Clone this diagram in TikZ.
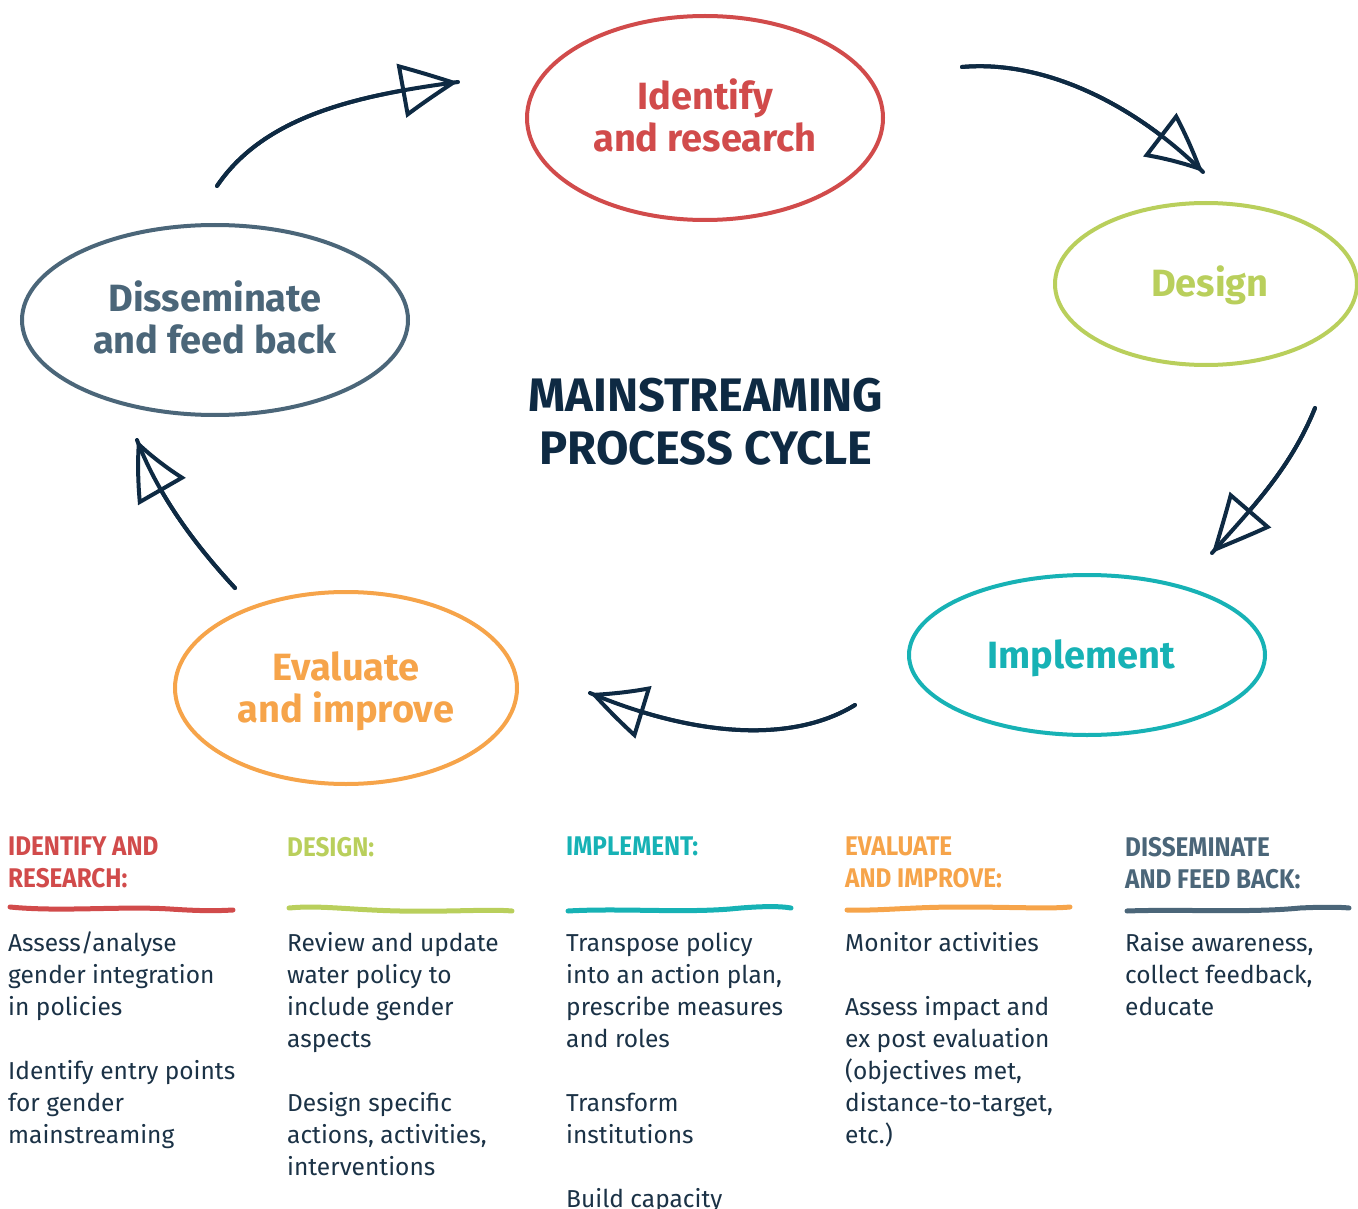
\documentclass[tikz,border=0pt]{standalone}
\usepackage{fontspec}
\setmainfont{Fira Sans}
\newfontfamily\condfont{Fira Sans}[FakeStretch=0.9]
\usetikzlibrary{arrows.meta,bending}
\definecolor{cred}{HTML}{D14B4B}
\definecolor{cgreen}{HTML}{B9CF5C}
\definecolor{cteal}{HTML}{17B2B5}
\definecolor{corange}{HTML}{F6A44A}
\definecolor{cslate}{HTML}{4B6679}
\definecolor{cnavy}{HTML}{0E2A43}
\definecolor{ctext}{HTML}{1B3246}
\begin{document}
\begin{tikzpicture}[x=1pt,y=-1pt,
  phasetext/.style={font=\fontsize{38}{42}\selectfont\bfseries, align=center, inner sep=0pt},
  cyclearrow/.style={draw=cnavy, line width=4pt, line cap=round},
  headtip/.style={-{Triangle[open,length=58pt,width=54pt,line width=4pt,bend]}},
  colhead/.style={anchor=north west, inner sep=0pt, align=left, text=#1,
    font=\condfont\fontsize{27}{32}\selectfont\bfseries},
  colbody/.style={anchor=north west, inner sep=0pt, align=left, text=ctext,
    font=\fontsize{24.5}{32}\selectfont},
  uline/.style={draw=#1, line width=5pt, line cap=round}
]
\useasboundingbox (0,0) rectangle (1358,1209);

% ellipses
\draw[cred, line width=4pt] (705,118) ellipse [x radius=178, y radius=102];
\node[phasetext, text=cred] (identify) at (705,115) {Identify\\and research};

\draw[cgreen, line width=4pt] (1206,284) ellipse [x radius=151, y radius=81];
\node[phasetext, text=cgreen] (design) at (1210,285) {Design};

\draw[cteal, line width=4pt] (1087,655) ellipse [x radius=178, y radius=80];
\node[phasetext, text=cteal] (implement) at (1081,658) {Implement};

\draw[corange, line width=4pt] (346,688) ellipse [x radius=171, y radius=96];
\node[phasetext, text=corange] (evaluate) at (346,691) {Evaluate\\and improve};

\draw[cslate, line width=4pt] (215,320) ellipse [x radius=193, y radius=95];
\node[phasetext, text=cslate] (disseminate) at (215,317) {Disseminate\\and feed back};

% title
\node[font=\fontsize{47}{53}\selectfont\bfseries, text=cnavy, align=center, inner sep=0pt] (title) at (706,422) {MAINSTREAMING\\PROCESS CYCLE};

% arrow coordinates
\coordinate (a1s) at (217,186); \coordinate (a1e) at (458,82);
\coordinate (a2s) at (962,67);  \coordinate (a2e) at (1203,172);
\coordinate (a3s) at (1315,408); \coordinate (a3e) at (1212,553);
\coordinate (a4s) at (855,705); \coordinate (a4e) at (590,693);
\coordinate (a5s) at (235,588); \coordinate (a5e) at (137,440);

\draw[cyclearrow] (a1s) .. controls (265,115) and (360,95) .. (a1e);
\draw[cyclearrow, headtip] (a1s) .. controls (265,115) and (360,95) .. (a1e);
\draw[cyclearrow] (a2s) .. controls (1040,60) and (1130,100) .. (a2e);
\draw[cyclearrow, headtip] (a2s) .. controls (1040,60) and (1130,100) .. (a2e);
\draw[cyclearrow] (a3s) .. controls (1290,470) and (1250,510) .. (a3e);
\draw[cyclearrow, headtip] (a3s) .. controls (1290,470) and (1250,510) .. (a3e);
\draw[cyclearrow] (a4s) .. controls (790,745) and (690,735) .. (a4e);
\draw[cyclearrow, headtip] (a4s) .. controls (790,745) and (690,735) .. (a4e);
\draw[cyclearrow] (a5s) .. controls (200,550) and (160,500) .. (a5e);
\draw[cyclearrow, headtip] (a5s) .. controls (200,550) and (160,500) .. (a5e);

% column headings
\node[colhead=cred] (h1) at (8,837) {IDENTIFY AND\\RESEARCH:};
\node[colhead=cgreen] (h2) at (287,837) {DESIGN:};
\node[colhead=cteal] (h3) at (566,837) {IMPLEMENT:};
\node[colhead=corange] (h4) at (845,837) {EVALUATE\\AND IMPROVE:};
\node[colhead=cslate] (h5) at (1125,837) {DISSEMINATE\\AND FEED BACK:};

% underlines
\draw[uline=cred] (10,907) .. controls (60,912) and (120,906) .. (170,909) .. controls (200,911) and (215,911) .. (233,910);
\draw[uline=cgreen] (289,908) .. controls (320,905) and (350,910) .. (400,911) .. controls (450,912) and (490,909) .. (512,911);
\draw[uline=cteal] (568,911) .. controls (620,908) and (680,913) .. (730,909) .. controls (760,906) and (780,906) .. (791,908);
\draw[uline=corange] (847,910) .. controls (880,911) and (910,907) .. (960,907) .. controls (1010,907) and (1050,909) .. (1070,907);
\draw[uline=cslate] (1127,911) .. controls (1180,909) and (1250,913) .. (1300,908) .. controls (1320,907) and (1340,907) .. (1349,908);

% column bodies
\node[colbody] (b1) at (8,932) {Assess/analyse\\gender integration\\in policies\\[32pt]Identify entry points\\for gender\\mainstreaming};
\node[colbody] (b2) at (287,932) {Review and update\\water policy to\\include gender\\aspects\\[32pt]Design specific\\actions, activities,\\interventions};
\node[colbody] (b3) at (566,932) {Transpose policy\\into an action plan,\\prescribe measures\\and roles\\[32pt]Transform\\institutions\\[32pt]Build capacity};
\node[colbody] (b4) at (845,932) {Monitor activities\\[32pt]Assess impact and\\ex post evaluation\\(objectives met,\\distance-to-target,\\etc.)};
\node[colbody] (b5) at (1125,932) {Raise awareness,\\collect feedback,\\educate};
\end{tikzpicture}
\end{document}
